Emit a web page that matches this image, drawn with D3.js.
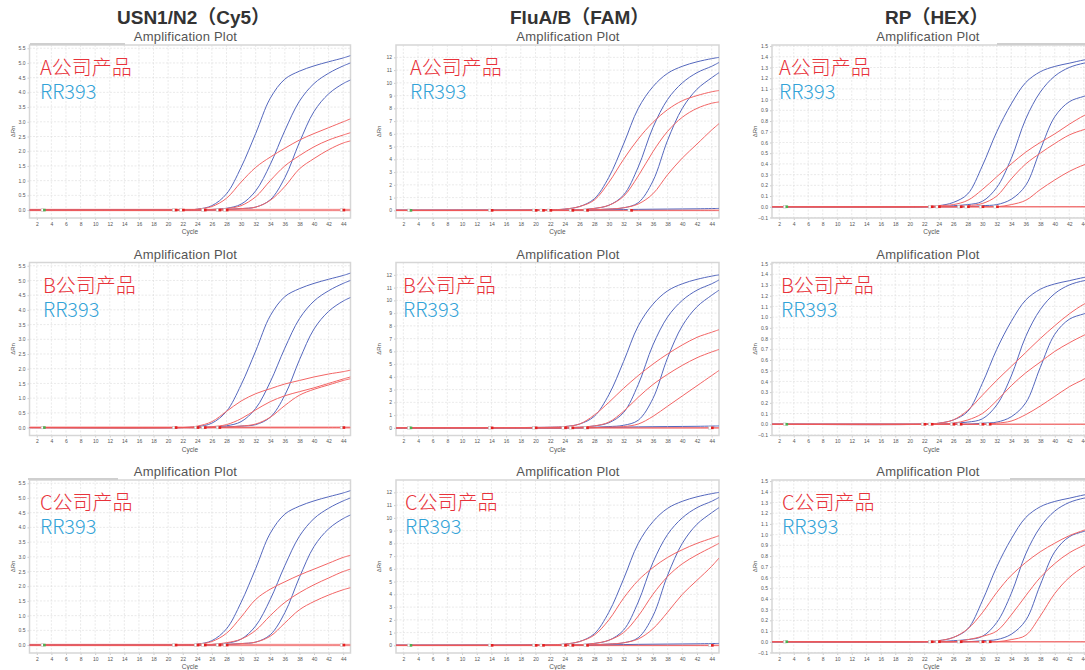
<!DOCTYPE html>
<html>
<head>
<meta charset="utf-8">
<script src="https://cdn.jsdelivr.net/npm/d3@7"></script>
<style>
  body { margin: 0; background: #fff; }
  svg { display: block; }
</style>
</head>
<body>
<svg id="chart" width="1085" height="670"></svg>
<script>
// 读数的循环点 (cycle)
const cycles = [1, 22, 24, 26, 28, 30, 32, 34, 36, 38, 40, 42, 44, 45];
const xTicks = [2, 4, 6, 8, 10, 12, 14, 16, 18, 20, 22, 24, 26, 28, 30, 32, 34, 36, 38, 40, 42, 44];

// 每列的纵轴刻度
const yTicksCy5 = [0.0, 0.5, 1.0, 1.5, 2.0, 2.5, 3.0, 3.5, 4.0, 4.5, 5.0, 5.5];
const yTicksFam = [0, 1, 2, 3, 4, 5, 6, 7, 8, 9, 10, 11, 12];
const yTicksHex = [-0.1, 0.0, 0.1, 0.2, 0.3, 0.4, 0.5, 0.6, 0.7, 0.8, 0.9, 1.0, 1.1, 1.2, 1.3, 1.4, 1.5];

const channels = ['USN1/N2（Cy5）', 'FluA/B（FAM）', 'RP（HEX）'];
const products = ['A公司产品', 'B公司产品', 'C公司产品'];
const refName = 'RR393';

// RR393 (蓝色) —— 三行相同
const blueCy5 = [
  [0, 0, 0.03, 0.15, 0.55, 1.45, 2.6, 3.8, 4.45, 4.72, 4.9, 5.04, 5.17, 5.25],
  [0, 0, 0, 0.02, 0.06, 0.2, 0.65, 1.55, 2.7, 3.7, 4.3, 4.65, 4.9, 5.0],
  [0, 0, 0, 0, 0.02, 0.05, 0.1, 0.35, 1.1, 2.3, 3.35, 3.95, 4.3, 4.42]
];
const blueFam = [
  [0, 0.05, 0.1, 0.3, 0.9, 2.6, 5.2, 8.0, 9.7, 10.75, 11.3, 11.65, 11.9, 12.0],
  [0, 0, 0, 0.05, 0.15, 0.4, 1.2, 3.4, 6.5, 8.7, 10.0, 10.8, 11.3, 11.6],
  [0, 0, 0, 0, 0.05, 0.1, 0.2, 0.6, 2.3, 5.5, 8.0, 9.5, 10.4, 10.8],
  [0, 0, 0, 0, 0.02, 0.04, 0.06, 0.08, 0.09, 0.1, 0.11, 0.12, 0.14, 0.15]
];
const blueHex = [
  [0, 0, 0.01, 0.04, 0.12, 0.38, 0.7, 0.96, 1.16, 1.26, 1.31, 1.34, 1.37, 1.38],
  [0, 0, 0, 0.01, 0.02, 0.05, 0.18, 0.45, 0.82, 1.07, 1.22, 1.3, 1.34, 1.35],
  [0, 0, 0, 0, 0, 0.01, 0.02, 0.07, 0.2, 0.53, 0.84, 0.98, 1.03, 1.05]
];

// 各公司产品 (红色)
const redCy5A = [
  [0, 0, 0.03, 0.12, 0.4, 0.95, 1.45, 1.8, 2.1, 2.38, 2.6, 2.8, 3.0, 3.1],
  [0, 0, 0, 0.02, 0.05, 0.15, 0.45, 1.0, 1.5, 1.85, 2.15, 2.38, 2.55, 2.63],
  [0, 0, 0, 0, 0.02, 0.05, 0.1, 0.33, 0.8, 1.4, 1.75, 2.05, 2.28, 2.35]
];
const redCy5B = [
  [0, 0, 0.05, 0.2, 0.55, 0.9, 1.15, 1.32, 1.48, 1.6, 1.72, 1.82, 1.9, 1.95],
  [0, 0, 0, 0.03, 0.1, 0.3, 0.6, 0.88, 1.08, 1.22, 1.35, 1.5, 1.65, 1.72],
  [0, 0, 0, 0, 0.02, 0.05, 0.12, 0.35, 0.75, 1.1, 1.3, 1.45, 1.6, 1.66]
];
const redCy5C = [
  [0, 0, 0.03, 0.12, 0.4, 0.95, 1.55, 1.9, 2.15, 2.38, 2.58, 2.78, 2.98, 3.05],
  [0, 0, 0, 0.02, 0.08, 0.2, 0.5, 1.0, 1.45, 1.78, 2.05, 2.28, 2.5, 2.58],
  [0, 0, 0, 0, 0.02, 0.05, 0.1, 0.3, 0.75, 1.2, 1.48, 1.7, 1.88, 1.95]
];
const redFamA = [
  [0, 0.05, 0.1, 0.3, 0.8, 2.2, 4.0, 5.6, 6.9, 7.9, 8.6, 9.0, 9.3, 9.4],
  [0, 0, 0, 0.05, 0.15, 0.4, 1.1, 2.7, 4.6, 6.2, 7.3, 8.0, 8.4, 8.5],
  [0, 0, 0, 0, 0.05, 0.1, 0.2, 0.5, 1.3, 2.8, 4.1, 5.2, 6.3, 6.8]
];
const redFamB = [
  [0, 0.05, 0.1, 0.3, 1.0, 2.0, 3.1, 4.1, 5.0, 5.8, 6.5, 7.1, 7.5, 7.7],
  [0, 0, 0, 0.05, 0.15, 0.45, 1.3, 2.4, 3.4, 4.2, 4.9, 5.5, 5.95, 6.15],
  [0, 0, 0, 0, 0.02, 0.05, 0.1, 0.3, 0.9, 1.7, 2.5, 3.3, 4.1, 4.5]
];
const redFamC = [
  [0, 0.05, 0.1, 0.3, 0.8, 2.0, 3.7, 5.1, 6.1, 6.9, 7.5, 8.0, 8.4, 8.6],
  [0, 0, 0, 0.05, 0.15, 0.4, 1.0, 2.3, 4.0, 5.4, 6.4, 7.1, 7.7, 8.0],
  [0, 0, 0, 0, 0.05, 0.1, 0.2, 0.5, 1.3, 2.6, 4.0, 5.1, 6.2, 6.85]
];
const redHexA = [
  [0, 0, 0.01, 0.02, 0.06, 0.16, 0.28, 0.4, 0.51, 0.6, 0.68, 0.77, 0.85, 0.88],
  [0, 0, 0, 0, 0.01, 0.03, 0.1, 0.26, 0.4, 0.5, 0.59, 0.67, 0.72, 0.74],
  [0, 0, 0, 0, 0, 0, 0, 0.02, 0.06, 0.16, 0.25, 0.33, 0.39, 0.41]
];
const redHexB = [
  [0, 0, 0.01, 0.04, 0.13, 0.27, 0.41, 0.54, 0.67, 0.8, 0.92, 1.03, 1.12, 1.15],
  [0, 0, 0, 0.01, 0.04, 0.1, 0.22, 0.36, 0.48, 0.58, 0.68, 0.76, 0.83, 0.86],
  [0, 0, 0, 0, 0, 0, 0.01, 0.03, 0.09, 0.17, 0.26, 0.35, 0.42, 0.46]
];
const redHexC = [
  [0, 0, 0.01, 0.04, 0.12, 0.27, 0.46, 0.62, 0.74, 0.84, 0.92, 0.99, 1.04, 1.06],
  [0, 0, 0, 0, 0.02, 0.05, 0.1, 0.25, 0.43, 0.6, 0.73, 0.83, 0.9, 0.93],
  [0, 0, 0, 0, 0, 0, 0, 0.02, 0.06, 0.24, 0.45, 0.6, 0.7, 0.73]
];
const flatLine = [0, 0, 0, 0, 0, 0, 0, 0, 0, 0, 0, 0, 0, 0];

// 基线标记所在 cycle
const marksCy5 = [[21, 22, 25, 27, 28, 44], [21, 24, 25, 27, 44], [21, 24, 25, 27, 28, 44]];
const marksFam = [[14, 20, 21, 22, 25, 27, 33], [14, 20, 24, 25, 27, 44], [14, 20, 21, 24, 25, 27, 44]];
const marksHex = [[23, 24, 27, 28, 30, 32], [22, 23, 26, 27, 30, 31], [23, 24, 27, 30, 31]];

// 布局
const colLeft = [29.5, 396, 772],
    colWidth = [321, 323, 319],
    rowTop = [45, 262.5, 480],
    plotH = 173;
const yDomains = [[-0.27, 5.61], [-0.6, 12.97], [-0.105, 1.51]];
const yTickSets = [yTicksCy5, yTicksFam, yTicksHex];
const yFormats = [d3.format('.1f'), d3.format('d'), d3.format('.1f')];
const blueSets = [blueCy5, blueFam, blueHex];
const redSets = [[redCy5A, redCy5B, redCy5C], [redFamA, redFamB, redFamC], [redHexA, redHexB, redHexC]];
const markSets = [marksCy5, marksFam, marksHex];
const titleX = [185.5, 568, 928],
    headerX = [117, 510, 885],
    labelX = [[40, 43, 40], [410, 403, 405], [779, 781, 782]];

const blueColor = '#5467bd', redColor = '#f26565';
const svg = d3.select('#chart');

// 列标题
svg.selectAll('.header')
    .data(channels)
    .enter()
    .append('text')
    .attr('x', (d, i) => headerX[i])
    .attr('y', 24)
    .attr('font-family', '"Liberation Sans", Arial, "Noto Sans CJK SC", sans-serif')
    .attr('font-size', 19)
    .attr('font-weight', 'bold')
    .attr('fill', '#333')
    .text(d => d);

const line = d3.line().curve(d3.curveCatmullRom.alpha(0.5));

for (let r = 0; r < 3; r++) {
    for (let c = 0; c < 3; c++) {
        let w = colWidth[c], top = rowTop[r], left = colLeft[c];
        let g = svg.append('g').attr('transform', 'translate(' + left + ',' + top + ')');

        let x = d3.scaleLinear().domain([1, 45]).range([0, w]);
        let y = d3.scaleLinear().domain(yDomains[c]).range([plotH, 0]);
        line.x((d, i) => x(cycles[i])).y(d => y(d));

        // 标题
        svg.append('text')
            .attr('x', titleX[c])
            .attr('y', top - 4)
            .attr('text-anchor', 'middle')
            .attr('font-family', '"Liberation Sans", Arial, sans-serif')
            .attr('font-size', 13)
            .attr('fill', '#555')
            .attr('letter-spacing', 0.2)
            .text('Amplification Plot');

        // 网格
        g.selectAll('.vg').data(xTicks).enter().append('line')
            .attr('x1', d => x(d)).attr('x2', d => x(d))
            .attr('y1', 0).attr('y2', plotH)
            .attr('stroke', '#dcdcdc').attr('stroke-width', 0.6).attr('stroke-dasharray', '2,1.5');
        g.selectAll('.hg').data(yTickSets[c]).enter().append('line')
            .attr('x1', 0).attr('x2', w)
            .attr('y1', d => y(d)).attr('y2', d => y(d))
            .attr('stroke', '#dcdcdc').attr('stroke-width', 0.6).attr('stroke-dasharray', '2,1.5');

        // 坐标轴
        let xAxis = g.append('g').attr('transform', 'translate(0,' + plotH + ')')
            .call(d3.axisBottom(x).tickValues(xTicks).tickSize(2).tickPadding(2));
        let yAxis = g.append('g')
            .call(d3.axisLeft(y).tickValues(yTickSets[c]).tickFormat(yFormats[c]).tickSize(2).tickPadding(2));
        [xAxis, yAxis].forEach(a => {
            a.select('.domain').remove();
            a.selectAll('line').attr('stroke', '#999').attr('stroke-width', 0.5);
            a.selectAll('text').attr('font-size', 5).attr('fill', '#555')
                .attr('font-family', '"Liberation Sans", Arial, sans-serif');
        });

        // 边框
        g.append('rect')
            .attr('x', 0).attr('y', 0).attr('width', w).attr('height', plotH)
            .attr('fill', 'none').attr('stroke', '#d6d6d6').attr('stroke-width', 1.5);

        g.append('text')
            .attr('x', w / 2).attr('y', plotH + 16)
            .attr('text-anchor', 'middle')
            .attr('font-family', '"Liberation Sans", Arial, sans-serif')
            .attr('font-size', 6.5).attr('fill', '#555')
            .text('Cycle');
        g.append('text')
            .attr('transform', 'translate(' + (-15) + ',' + (plotH / 2) + ') rotate(-90)')
            .attr('text-anchor', 'middle')
            .attr('font-family', '"Liberation Sans", Arial, sans-serif')
            .attr('font-size', 6).attr('fill', '#555')
            .text('ΔRn');

        // 曲线
        let clipId = 'clip-' + r + '-' + c;
        g.append('clipPath').attr('id', clipId)
            .append('rect').attr('x', 0).attr('y', 0).attr('width', w).attr('height', plotH);
        let gc = g.append('g').attr('clip-path', 'url(#' + clipId + ')');

        // 阈值线
        gc.append('path')
            .attr('d', line(flatLine))
            .attr('fill', 'none')
            .attr('stroke', '#f7b3b3')
            .attr('stroke-width', c === 0 ? 2.5 : 1.6);

        gc.selectAll('.blue')
            .data(blueSets[c])
            .enter()
            .append('path')
            .attr('d', d => line(d))
            .attr('fill', 'none')
            .attr('stroke', blueColor)
            .attr('stroke-width', 1);

        gc.selectAll('.red')
            .data(redSets[c][r])
            .enter()
            .append('path')
            .attr('d', d => line(d))
            .attr('fill', 'none')
            .attr('stroke', redColor)
            .attr('stroke-width', 1);

        gc.append('path')
            .attr('d', line(flatLine))
            .attr('fill', 'none')
            .attr('stroke', '#ee5050')
            .attr('stroke-width', 0.8);

        // 基线标记
        let y0 = y(0);
        gc.append('rect')
            .attr('x', x(3) - 3).attr('y', y0 - 1.3).attr('width', 2.6).attr('height', 2.6)
            .attr('fill', '#fff').attr('stroke', '#bbb').attr('stroke-width', 0.5);
        gc.append('rect')
            .attr('x', x(3) - 1).attr('y', y0 - 1.3).attr('width', 2.6).attr('height', 2.6)
            .attr('fill', '#4caf50');
        gc.selectAll('.mk')
            .data(markSets[c][r])
            .enter()
            .append('g')
            .each(function (d) {
                let m = d3.select(this);
                m.append('rect')
                    .attr('x', x(d) - 3).attr('y', y0 - 1.3).attr('width', 2.6).attr('height', 2.6)
                    .attr('fill', '#fff').attr('stroke', '#bbb').attr('stroke-width', 0.5);
                m.append('rect')
                    .attr('x', x(d) - 0.6).attr('y', y0 - 1.3).attr('width', 2.6).attr('height', 2.6)
                    .attr('fill', '#e41e1e');
            });

        // 产品标签
        svg.append('text')
            .attr('x', labelX[c][r]).attr('y', top + 30)
            .attr('font-family', '"Noto Sans CJK SC", sans-serif')
            .attr('font-size', 20)
            .attr('font-weight', 300)
            .attr('fill', '#e8323a')
            .text(products[r]);
        svg.append('text')
            .attr('x', labelX[c][r]).attr('y', top + 54)
            .attr('font-family', '"Noto Sans CJK SC", sans-serif')
            .attr('font-size', 20)
            .attr('font-weight', 300)
            .attr('fill', '#33a3d8')
            .text(refName);
    }
}

// 截图边缘的灰条
[[30, 44, 95], [28, 479, 90], [997, 44, 88], [1010, 479, 75]].forEach(b => {
    svg.append('rect').attr('x', b[0]).attr('y', b[1] - 1).attr('width', b[2]).attr('height', 2)
        .attr('fill', '#cfcfcf');
});
</script>
</body>
</html>
